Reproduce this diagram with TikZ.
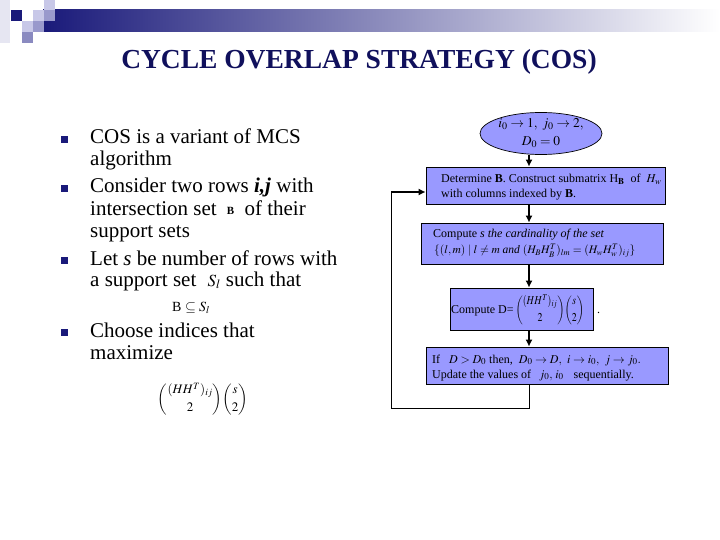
\documentclass[tikz,border=0pt]{standalone}
\usepackage{amsmath}
\usepackage{mathptmx}
\usepackage{graphicx}
\usepackage{fontspec}
\setmainfont{Liberation Serif}
\usetikzlibrary{shapes.geometric,arrows.meta}
\definecolor{navy}{RGB}{26,26,122}
\definecolor{titlenavy}{RGB}{16,16,92}
\definecolor{boxfill}{RGB}{153,153,255}
\definecolor{sqlight}{RGB}{200,200,232}
\definecolor{sqmed}{RGB}{153,153,204}
\definecolor{sqpale}{RGB}{230,230,242}
\definecolor{sqpurple}{RGB}{138,138,192}
\begin{document}
\begin{tikzpicture}[x=1pt,y=-1pt,
  flowbox/.style={draw=black,line width=0.7pt,fill=boxfill,rectangle,inner sep=0pt},
  flowell/.style={draw=black,line width=0.7pt,fill=boxfill,ellipse,inner sep=0pt,align=center,font=\fontsize{13.5}{18}\selectfont},
  boxtext/.style={anchor=base west,inner sep=0pt,font=\fontsize{12}{14}\selectfont},
  bodytext/.style={anchor=base west,inner sep=0pt,font=\fontsize{21}{22}\selectfont},
  bulletsq/.style={fill=navy,draw=none,rectangle,minimum size=7pt,inner sep=0pt},
  flowarrow/.style={line width=2.2pt,-{Latex[length=7pt,width=7pt]}},
  backline/.style={line width=0.8pt},
  deco/.style={draw=none,rectangle,minimum size=11pt,inner sep=0pt}
]
\useasboundingbox (0,0) rectangle (720,540);
% header decoration
\shade[left color=navy,right color=white] (43,10) rectangle (720,32);
\node[deco,fill=sqpale,minimum width=10pt,minimum height=43pt] (dq0) at (5,21.5) {};
\node[deco,fill=navy] (dq1) at (16,16) {};
\node[deco,fill=white] (dq2) at (27.5,16) {};
\node[deco,fill=sqlight] (dq3) at (38,16) {};
\node[deco,fill=sqlight] (dq4) at (49,5) {};
\node[deco,fill=sqmed] (dq5) at (49,16) {};
\node[deco,fill=sqlight] (dq6) at (27.5,27) {};
\node[deco,fill=sqmed] (dq7) at (38,27) {};
\node[deco,fill=sqpurple] (dq8) at (27.5,37.5) {};
% title
\node[anchor=base,inner sep=0pt,font=\fontsize{27.5}{30}\selectfont\bfseries,text=titlenavy] (title) at (359,69) {CYCLE OVERLAP STRATEGY (COS)};
% bullets
\node[bulletsq] (bu1) at (64.5,139.5) {};
\node[bulletsq] (bu2) at (64.5,188.5) {};
\node[bulletsq] (bu3) at (64.5,260.5) {};
\node[bulletsq] (bu4) at (64.5,332.5) {};
\node[bodytext] (l1) at (90,144) {COS is a variant of MCS};
\node[bodytext] (l2) at (90,166) {algorithm};
\node[bodytext] (l3) at (90,193) {Consider two rows \textbf{\textit{i,j}} with};
\node[bodytext] (l4) at (90,215) {intersection set \hspace{5pt}\raisebox{1pt}{\fontsize{11}{11}\selectfont\textbf{B}}\hspace{5pt} of their};
\node[bodytext] (l5) at (90,237) {support sets};
\node[bodytext] (l6) at (90,265) {Let \textit{s} be number of rows with};
\node[bodytext] (l7) at (90,286) {a support set \hspace{6pt}{\fontsize{17}{17}\selectfont$S_l$} such that};
\node[anchor=base west,inner sep=0pt,font=\fontsize{14}{14}\selectfont] (l8) at (172,311) {B $\subseteq S_l$};
\node[bodytext] (l9) at (90,337) {Choose indices that};
\node[bodytext] (l10) at (90,359) {maximize};
\node[inner sep=0pt,font=\fontsize{13}{13}\selectfont] (f1) at (203,399) {$\displaystyle\binom{(HH^T)_{ij}}{2}\binom{s}{2}$};
% flowchart
\node[flowell,minimum width=122pt,minimum height=42pt] (e1) at (541,133.5) {$i_0\to 1,\ j_0\to 2,$\\$D_0=0$};
\node[flowbox,minimum width=239pt,minimum height=37pt] (b1) at (545.5,185.5) {};
\node[flowbox,minimum width=242pt,minimum height=41pt] (b2) at (542,243.5) {};
\node[flowbox,minimum width=143pt,minimum height=42pt] (b3) at (521.5,309) {};
\node[flowbox,minimum width=242pt,minimum height=37pt] (b4) at (547,365.5) {};
\node[boxtext] (t1a) at (441,183) {Determine \textbf{B}. Construct submatrix H$_{\mathbf{B}}$\ \ of \ $H_w$};
\node[boxtext] (t1b) at (441,197) {with columns indexed by \textbf{B}.};
\node[boxtext] (t2a) at (433,237) {Compute \textit{s the cardinality of the set}};
\node[boxtext,font=\fontsize{11.5}{14}\selectfont] (t2b) at (434,254) {$\{(l,m)\mid l\neq m\ \textit{and}\ (H_BH_B^T)_{lm}=(H_wH_w^T)_{ij}\}$};
\node[boxtext] (t3) at (451,313) {Compute D=\,\scalebox{0.82}[1]{$\displaystyle\binom{(HH^T)_{ij}}{2}\binom{s}{2}$}};
\node[boxtext] (t3d) at (597,313) {.};
\node[boxtext] (t4a) at (432,363) {If\hspace{9pt}$D>D_0$ then,\hspace{6pt}$D_0\to D,\;\, i\to i_0,\;\, j\to j_0.$};
\node[boxtext] (t4b) at (432,378) {Update the values of\hspace{8pt}$j_0,\,i_0$\hspace{10pt}sequentially.};
% connectors
\coordinate (ax) at (529,0);
\coordinate (fbl) at (391,408);
\coordinate (fbt) at (391,192);
\draw[flowarrow] (e1.south -| ax) -- (b1.north -| ax);
\draw[flowarrow] (b1.south -| ax) -- (b2.north -| ax);
\draw[flowarrow] (b2.south -| ax) -- (b3.north -| ax);
\draw[flowarrow] (b3.south -| ax) -- (b4.north -| ax);
\draw[backline] (b4.south -| ax) |- (fbl) -- (fbt);
\draw[flowarrow] (fbt) -- (fbt -| b1.west);
\end{tikzpicture}
\end{document}
